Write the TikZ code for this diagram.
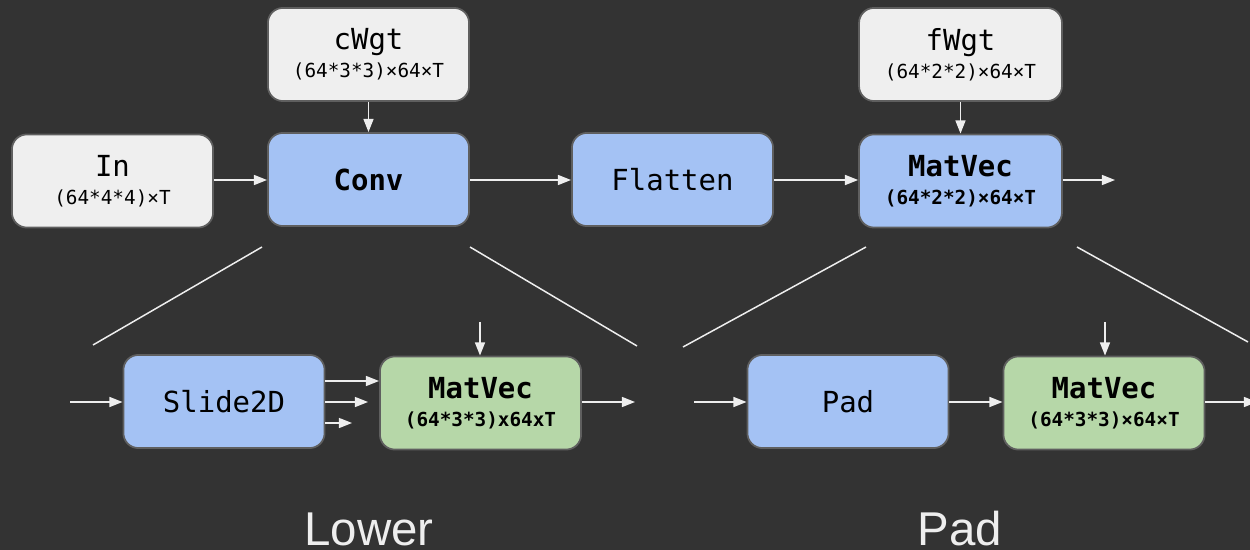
\documentclass[tikz,border=0pt]{standalone}
\usepackage{fontspec}
\setmonofont{DejaVu Sans Mono}
\setsansfont{Liberation Sans}
\usetikzlibrary{arrows.meta,calc}
\definecolor{bg}{HTML}{333333}
\definecolor{boxgray}{HTML}{EFEFEF}
\definecolor{boxblue}{HTML}{A4C2F4}
\definecolor{boxgreen}{HTML}{B6D7A8}
\definecolor{edge}{HTML}{5F5F5F}
\definecolor{wire}{HTML}{EEEEEE}
\begin{document}
\begin{tikzpicture}[x=0.02cm,y=-0.02cm,
  blk/.style={draw=edge,line width=1pt,rounded corners=8.5pt,minimum width=114.5pt,minimum height=53pt,
     inner sep=0pt,align=center,font=\ttfamily\fontsize{11}{16}\selectfont,text=black},
  graybox/.style={blk,fill=boxgray},
  bluebox/.style={blk,fill=boxblue},
  greenbox/.style={blk,fill=boxgreen},
  arr/.style={draw=wire,line width=0.85pt,-{Triangle[length=7.5pt,width=5.7pt]}},
  lin/.style={draw=wire,line width=0.85pt},
  big/.style={font=\sffamily\fontsize{27}{30}\selectfont,text=wire,inner sep=0pt}
]
\fill[bg] (0,0) rectangle (1250,550);
\useasboundingbox (0,0) rectangle (1250,550);
\newcommand{\nm}[1]{{\fontsize{16.5}{16}\selectfont #1}}
\newcommand{\bnm}[1]{{\fontsize{16.5}{16}\selectfont\bfseries #1}}
% top row
\node[graybox] (in) at (112.5,181) {\nm{In}\\(64*4*4)×T};
\node[graybox] (cwgt) at (368.5,54.5) {\nm{cWgt}\\(64*3*3)×64×T};
\node[bluebox] (conv) at (368.5,179.5) {\bnm{Conv}};
\node[bluebox] (flat) at (672.5,179.5) {\nm{Flatten}};
\node[graybox,minimum width=115.5pt] (fwgt) at (960.5,54.5) {\nm{fWgt}\\(64*2*2)×64×T};
\node[bluebox,minimum width=115.5pt] (mv) at (960.5,181) {\bnm{MatVec}\\\textbf{(64*2*2)×64×T}};
\coordinate (mvout) at (1115,180);
\draw[arr] (in.east |- 0,180) -- (conv.west |- 0,180);
\draw[arr] (cwgt) -- (conv);
\draw[arr] (conv.east |- 0,180) -- (flat.west |- 0,180);
\draw[arr] (flat.east |- 0,180) -- (mv.west |- 0,180);
\draw[arr] (fwgt) -- (mv);
\draw[arr] (mv.east |- 0,180) -- (mvout);
% expansion lines
\coordinate (l1a) at (262,247); \coordinate (l1b) at (93,345);
\coordinate (l2a) at (470,247); \coordinate (l2b) at (637,346);
\coordinate (l3a) at (866,247); \coordinate (l3b) at (683,347);
\coordinate (l4a) at (1077,247); \coordinate (l4b) at (1248,342);
\draw[lin] (l1a) -- (l1b);
\draw[lin] (l2a) -- (l2b);
\draw[lin] (l3a) -- (l3b);
\draw[lin] (l4a) -- (l4b);
% bottom left
\node[bluebox] (s2d) at (224,401.5) {\nm{Slide2D}};
\node[greenbox] (gm1) at (480.5,403) {\bnm{MatVec}\\\textbf{(64*3*3)x64xT}};
\coordinate (s2din) at (70,402);
\coordinate (gm1top) at (480,322);
\coordinate (gm1out) at (635,402);
\coordinate (s2e2) at (368,402);
\coordinate (s2e3) at (352,423);
\draw[arr] (s2din) -- (s2d.west |- 0,402);
\draw[arr] ($(s2d.east |- 0,402)+(0,-21)$) -- (gm1.west |- 0,381);
\draw[arr] (s2d.east |- 0,402) -- (s2e2);
\draw[arr] (s2d.east |- 0,423) -- (s2e3);
\draw[arr] (gm1top) -- (gm1.north -| gm1top);
\draw[arr] (gm1.east |- 0,402) -- (gm1out);
% bottom right
\node[bluebox] (pad) at (848,401.5) {\nm{Pad}};
\node[greenbox] (gm2) at (1104,403) {\bnm{MatVec}\\\textbf{(64*3*3)×64×T}};
\coordinate (padin) at (694,402);
\coordinate (gm2top) at (1105,322);
\coordinate (gm2out) at (1257,402);
\draw[arr] (padin) -- (pad.west |- 0,402);
\draw[arr] (pad.east |- 0,402) -- (gm2.west |- 0,402);
\draw[arr] (gm2top) -- (gm2.north -| gm2top);
\draw[arr] (gm2.east |- 0,402) -- (gm2out);
% captions
\node[big,anchor=base] (lower) at (369,545) {Lower};
\node[big,anchor=base] (padlbl) at (960,545) {Pad};
\end{tikzpicture}
\end{document}
